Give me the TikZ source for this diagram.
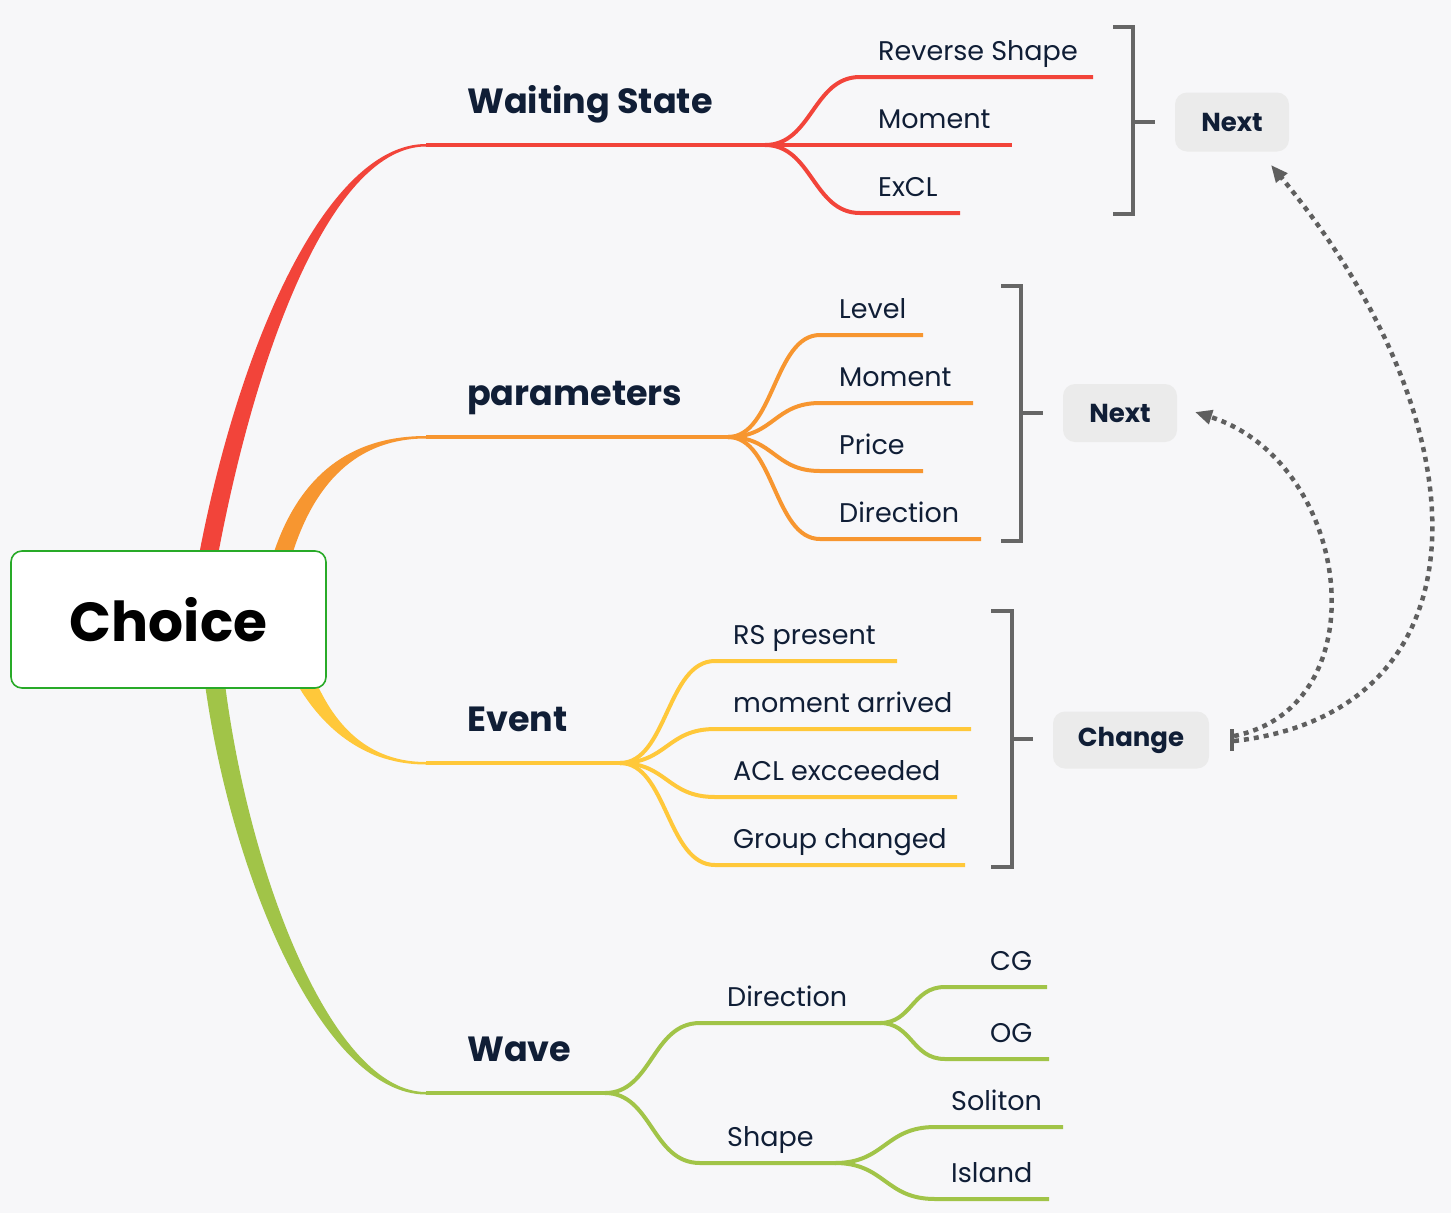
\documentclass[tikz,border=0pt]{standalone}
\usepackage{fontspec}
\setmainfont{Poppins}
\usetikzlibrary{arrows.meta}
\definecolor{bg}{RGB}{247,247,249}
\definecolor{cred}{RGB}{242,68,58}
\definecolor{corange}{RGB}{247,150,48}
\definecolor{cyellow}{RGB}{255,200,58}
\definecolor{cgreen}{RGB}{161,196,72}
\definecolor{ink}{RGB}{16,30,54}
\definecolor{brk}{RGB}{102,102,102}
\definecolor{tagfill}{RGB}{235,235,235}
\definecolor{boxgreen}{RGB}{40,170,40}
\definecolor{arrowgray}{RGB}{95,95,95}
\tikzset{
  sublabel/.style={font=\fontsize{27}{31}\selectfont, text=ink, anchor=base west, inner sep=0pt},
  mainlabel/.style={font=\fontsize{35}{39}\selectfont\bfseries, text=ink, anchor=base west, inner sep=0pt},
  tagbox/.style={fill=tagfill, rounded corners=12pt, font=\fontsize{26}{30}\selectfont\bfseries, text=ink, inner sep=0pt},
  mainline/.style={line width=4.5pt},
  branchline/.style={line width=4pt},
  bracketline/.style={draw=brk, line width=3.2pt},
  dotarrow/.style={draw=arrowgray, line width=4.5pt, dash pattern=on 5pt off 5pt, -{Triangle[length=17pt,width=14pt]}},
}
\begin{document}
\begin{tikzpicture}[x=1pt,y=-1pt]
\useasboundingbox (0,0) rectangle (1451,1213);
\fill[bg] (0,0) rectangle (1451,1213);

% ---------- tapered trunks ----------
\fill[cred] (199,555) .. controls (240,340) and (328,144) .. (426,144) -- (426,146.5) .. controls (334,146.5) and (258,342) .. (218,555) -- cycle;
\fill[corange] (273,555) .. controls (298,478) and (348,436) .. (426,436) -- (426,438.5) .. controls (356,438.5) and (314,484) .. (292,555) -- cycle;
\fill[cyellow] (297,684) .. controls (324,730) and (366,764.5) .. (426,764.5) -- (426,762) .. controls (372,762) and (338,730) .. (317,684) -- cycle;
\fill[cgreen] (205,684) .. controls (232,880) and (324,1094.5) .. (426,1094.5) -- (426,1092) .. controls (334,1092) and (250,880) .. (225,684) -- cycle;

% ---------- central node ----------
\node[draw=boxgreen, line width=1.6pt, fill=white, rounded corners=11pt, minimum width=315pt, minimum height=137pt, inner sep=0pt,
      font=\fontsize{55}{60}\selectfont\bfseries, text=black] (choice) at (168.5,619.5) {Choice};

% ---------- Waiting State (red) ----------
\coordinate (rA) at (426,145);
\coordinate (rS) at (765,145);
\coordinate (r1) at (860,77);  \coordinate (r1e) at (1093,77);
\coordinate (r2) at (860,145); \coordinate (r2e) at (1012,145);
\coordinate (r3) at (860,213); \coordinate (r3e) at (960,213);
\draw[cred, mainline] (rA) -- (rS);
\draw[cred, branchline] (rS) .. controls (812,145) and (813,77) .. (r1) -- (r1e);
\draw[cred, branchline] (rS) -- (r2) -- (r2e);
\draw[cred, branchline] (rS) .. controls (812,145) and (813,213) .. (r3) -- (r3e);
\node[mainlabel] (ws) at (467,113) {Waiting State};
\node[sublabel] (rsh) at (878,60) {Reverse Shape};
\node[sublabel] (mom1) at (878,128) {Moment};
\node[sublabel] (excl) at (878,196) {ExCL};

% ---------- parameters (orange) ----------
\coordinate (oA) at (426,437);
\coordinate (oS) at (728,437);
\coordinate (o1) at (820,335); \coordinate (o1e) at (923,335);
\coordinate (o2) at (820,403); \coordinate (o2e) at (973,403);
\coordinate (o3) at (820,471); \coordinate (o3e) at (923,471);
\coordinate (o4) at (820,539); \coordinate (o4e) at (981,539);
\draw[corange, mainline] (oA) -- (oS);
\draw[corange, branchline] (oS) .. controls (774,437) and (774,335) .. (o1) -- (o1e);
\draw[corange, branchline] (oS) .. controls (774,437) and (774,403) .. (o2) -- (o2e);
\draw[corange, branchline] (oS) .. controls (774,437) and (774,471) .. (o3) -- (o3e);
\draw[corange, branchline] (oS) .. controls (774,437) and (774,539) .. (o4) -- (o4e);
\node[mainlabel] (par) at (467,405) {parameters};
\node[sublabel] (lev) at (839,318) {Level};
\node[sublabel] (mom2) at (839,386) {Moment};
\node[sublabel] (pri) at (839,454) {Price};
\node[sublabel] (dir1) at (839,522) {Direction};

% ---------- Event (yellow) ----------
\coordinate (yA) at (426,763);
\coordinate (yS) at (620,763);
\coordinate (y1) at (715,661); \coordinate (y1e) at (897,661);
\coordinate (y2) at (715,729); \coordinate (y2e) at (971,729);
\coordinate (y3) at (715,797); \coordinate (y3e) at (957,797);
\coordinate (y4) at (715,865); \coordinate (y4e) at (965,865);
\draw[cyellow, mainline] (yA) -- (yS);
\draw[cyellow, branchline] (yS) .. controls (667,763) and (667,661) .. (y1) -- (y1e);
\draw[cyellow, branchline] (yS) .. controls (667,763) and (667,729) .. (y2) -- (y2e);
\draw[cyellow, branchline] (yS) .. controls (667,763) and (667,797) .. (y3) -- (y3e);
\draw[cyellow, branchline] (yS) .. controls (667,763) and (667,865) .. (y4) -- (y4e);
\node[mainlabel] (evt) at (467,731) {Event};
\node[sublabel] (rsp) at (733,644) {RS present};
\node[sublabel] (mar) at (733,712) {moment arrived};
\node[sublabel] (acl) at (733,780) {ACL excceeded};
\node[sublabel] (grp) at (733,848) {Group changed};

% ---------- Wave (green) ----------
\coordinate (gA) at (426,1093);
\coordinate (gS) at (605,1093);
\coordinate (gd) at (700,1023); \coordinate (gdS) at (880,1023);
\coordinate (gs) at (700,1163); \coordinate (gsS) at (835,1163);
\coordinate (gc) at (945,987);  \coordinate (gce) at (1047,987);
\coordinate (go) at (945,1059); \coordinate (goe) at (1049,1059);
\coordinate (gl) at (935,1127); \coordinate (gle) at (1063,1127);
\coordinate (gi) at (935,1199); \coordinate (gie) at (1049,1199);
\draw[cgreen, mainline] (gA) -- (gS);
\draw[cgreen, branchline] (gS) .. controls (652,1093) and (652,1023) .. (gd) -- (gdS);
\draw[cgreen, branchline] (gS) .. controls (652,1093) and (652,1163) .. (gs) -- (gsS);
\draw[cgreen, branchline] (gdS) .. controls (912,1023) and (912,987) .. (gc) -- (gce);
\draw[cgreen, branchline] (gdS) .. controls (912,1023) and (912,1059) .. (go) -- (goe);
\draw[cgreen, branchline] (gsS) .. controls (885,1163) and (885,1127) .. (gl) -- (gle);
\draw[cgreen, branchline] (gsS) .. controls (885,1163) and (885,1199) .. (gi) -- (gie);
\node[mainlabel] (wav) at (467,1061) {Wave};
\node[sublabel] (dir2) at (727,1006) {Direction};
\node[sublabel] (shp) at (727,1146) {Shape};
\node[sublabel] (cg) at (990,970) {CG};
\node[sublabel] (og) at (990,1042) {OG};
\node[sublabel] (sol) at (951,1110) {Soliton};
\node[sublabel] (isl) at (951,1182) {Island};

% ---------- brackets ----------
\draw[bracketline] (1113,27) -- (1133,27) -- (1133,214) -- (1113,214);
\draw[bracketline] (1133,122) -- (1155,122);
\draw[bracketline] (1001,286) -- (1021,286) -- (1021,541) -- (1001,541);
\draw[bracketline] (1021,413) -- (1043,413);
\draw[bracketline] (991,611) -- (1012,611) -- (1012,867) -- (991,867);
\draw[bracketline] (1012,739) -- (1033,739);

% ---------- tags ----------
\node[tagbox, minimum width=114pt, minimum height=59pt] (next1) at (1232,122) {Next};
\node[tagbox, minimum width=114pt, minimum height=58pt] (next2) at (1120,413) {Next};
\node[tagbox, minimum width=156pt, minimum height=57pt] (change) at (1131,740) {Change};

% ---------- dotted relations ----------
\coordinate (cs1) at (1234,736);
\coordinate (cs2) at (1234,741);
\coordinate (tip1) at (1271,165);
\coordinate (tip2) at (1195,412);
\draw[dotarrow] (cs1) .. controls (1382,706) and (1352,462) .. (tip2);
\draw[dotarrow] (cs2) .. controls (1490,712) and (1490,430) .. (tip1);
\draw[draw=arrowgray, line width=4.5pt] (1232,729) -- (1232,751);
\end{tikzpicture}
\end{document}
